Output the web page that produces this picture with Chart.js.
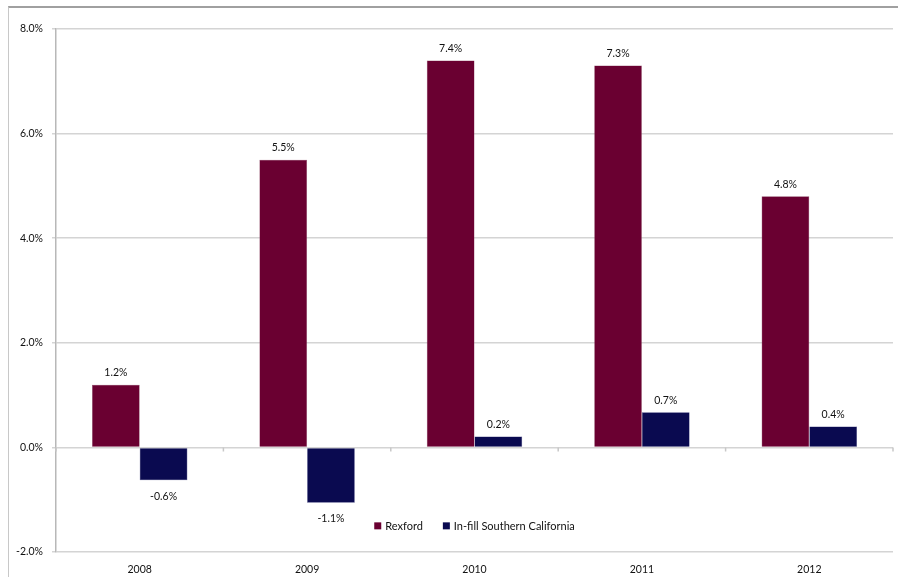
<!DOCTYPE html>
<html>
<head>
<meta charset="utf-8">
<script src="https://cdn.jsdelivr.net/npm/chart.js@4"></script>
<style>
  html, body { margin: 0; padding: 0; background: #fff; }
  #wrap { position: relative; width: 898px; height: 577px; overflow: hidden; }
  #frame { position: absolute; left: 8px; top: 6px; width: 1000px; height: 1000px;
           border-top: 2px solid #a0a0a0; border-left: 1px solid #c8c8c8; }
  canvas { position: absolute; left: 0; top: 0; }
</style>
</head>
<body>
<div id="wrap">
  <div id="frame"></div>
  <canvas id="c" width="898" height="577"></canvas>
</div>
<script>
const categories = ['2008', '2009', '2010', '2011', '2012'];
const rexford = [1.2, 5.5, 7.4, 7.3, 4.8];
const infill = [-0.63, -1.06, 0.21, 0.67, 0.4];
const seriesNames = ['Rexford', 'In-fill Southern California'];
const seriesColors = ['#6a0031', '#0a0a50'];
const yMin = -2, yMax = 8, yStep = 2;

const FONT = 'Lato, "Liberation Sans", sans-serif';
const TXT = '#111';

const dataLabels = {
  id: 'dataLabels',
  afterDatasetsDraw(chart) {
    const ctx = chart.ctx;
    ctx.save();
    ctx.font = '10.5px ' + FONT;
    ctx.fillStyle = TXT;
    ctx.textAlign = 'center';
    ctx.textBaseline = 'middle';
    chart.data.datasets.forEach((ds, di) => {
      chart.getDatasetMeta(di).data.forEach((bar, i) => {
        const v = ds.data[i];
        const txt = v.toFixed(1) + '%';
        const y = v >= 0 ? bar.y - 12 : bar.y + 16;
        ctx.fillText(txt, bar.x, y);
      });
    });
    ctx.restore();
  }
};

const zeroTicks = {
  id: 'zeroTicks',
  afterDraw(chart) {
    const ctx = chart.ctx, x = chart.scales.x, y = chart.scales.y;
    const y0 = y.getPixelForValue(0);
    ctx.save();
    ctx.strokeStyle = '#c8c8c8';
    ctx.lineWidth = 1.5;
    ctx.beginPath();
    for (let i = 0; i <= categories.length; i++) {
      let px;
      if (i === 0) px = x.left;
      else if (i === categories.length) px = x.right;
      else px = (x.getPixelForValue(i - 1) + x.getPixelForValue(i)) / 2;
      ctx.moveTo(px, y0);
      ctx.lineTo(px, y0 + 4);
    }
    ctx.stroke();
    ctx.restore();
  }
};

const innerLegend = {
  id: 'innerLegend',
  afterDraw(chart) {
    const ctx = chart.ctx, area = chart.chartArea;
    const y = chart.scales.y.getPixelForValue(-1.5);
    ctx.save();
    ctx.font = '11px ' + FONT;
    ctx.textBaseline = 'middle';
    ctx.textAlign = 'left';
    const box = 7, gap = 4, itemGap = 20;
    const widths = seriesNames.map(n => box + gap + ctx.measureText(n).width);
    const total = widths.reduce((a, b) => a + b, 0) + itemGap * (seriesNames.length - 1);
    let xx = (area.left + area.right) / 2 - total / 2;
    seriesNames.forEach((n, i) => {
      ctx.fillStyle = seriesColors[i];
      ctx.fillRect(xx, y - box / 2, box, box);
      ctx.fillStyle = TXT;
      ctx.fillText(n, xx + box + gap, y + 0.5);
      xx += widths[i] + itemGap;
    });
    ctx.restore();
  }
};

new Chart(document.getElementById('c'), {
  type: 'bar',
  data: {
    labels: categories,
    datasets: [
      { label: seriesNames[0], data: rexford, backgroundColor: seriesColors[0],
        borderColor: '#8a4a66', borderWidth: 0.5 },
      { label: seriesNames[1], data: infill, backgroundColor: seriesColors[1],
        borderColor: '#3a3a78', borderWidth: 0.5 }
    ]
  },
  options: {
    responsive: false,
    animation: false,
    devicePixelRatio: 1,
    layout: { padding: { left: 0, right: 5, top: 29, bottom: 0 } },
    datasets: { bar: { categoryPercentage: 0.57, barPercentage: 1.0 } },
    plugins: { legend: { display: false }, tooltip: { enabled: false } },
    scales: {
      x: {
        grid: { display: false, drawTicks: false },
        border: { display: false },
        ticks: { padding: 11, color: TXT, font: { family: FONT, size: 10.5 } },
        afterFit(s) { s.height = 25; }
      },
      y: {
        min: yMin, max: yMax,
        ticks: {
          stepSize: yStep, padding: 9, color: TXT,
          font: { family: FONT, size: 10.5 },
          callback: v => v.toFixed(1) + '%'
        },
        grid: { color: '#d4d4d4', lineWidth: 1.5, tickLength: 4 },
        border: { display: true, color: '#b8b8b8', width: 1.5 },
        afterFit(s) { s.width = 56; }
      }
    }
  },
  plugins: [dataLabels, zeroTicks, innerLegend]
});
</script>
</body>
</html>
